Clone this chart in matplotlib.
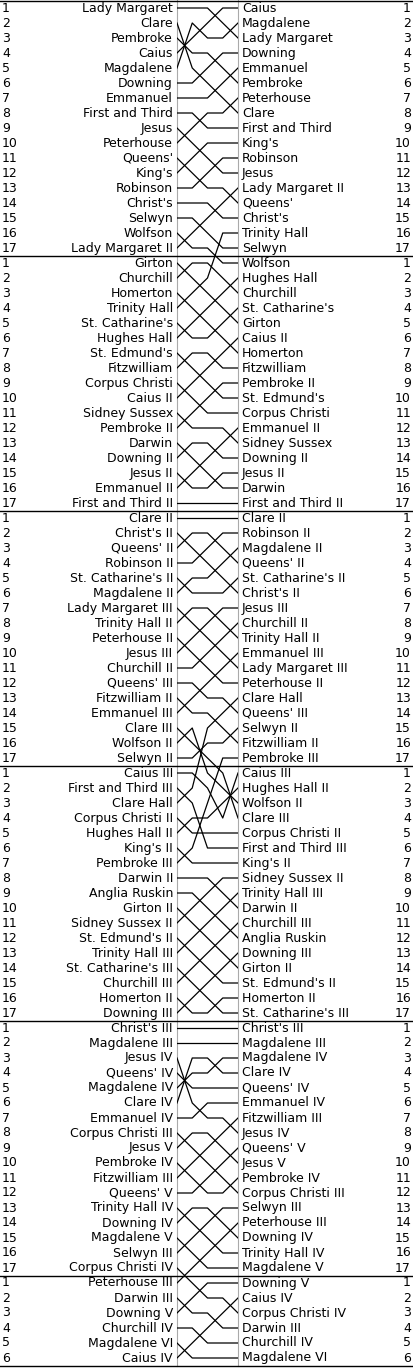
import matplotlib
matplotlib.use("Agg")
import matplotlib.pyplot as plt

# ---------------- data: crews in starting order, row after each day (0..4) ----------------
div1_crews = ["Lady Margaret", "Clare", "Pembroke", "Caius", "Magdalene", "Downing",
              "Emmanuel", "First and Third", "Jesus", "Peterhouse", "Queens'", "King's",
              "Robinson", "Christ's", "Selwyn", "Wolfson", "Lady Margaret II"]
div1_rows = [[0, 0, 0, 1, 2], [1, 4, 5, 6, 7], [2, 3, 3, 4, 5], [3, 2, 1, 0, 0],
             [4, 1, 2, 2, 1], [5, 5, 4, 3, 3], [6, 6, 6, 5, 4], [7, 7, 8, 8, 8],
             [8, 9, 10, 11, 11], [9, 8, 7, 7, 6], [10, 11, 12, 12, 13], [11, 10, 9, 9, 9],
             [12, 12, 11, 10, 10], [13, 13, 13, 14, 14], [14, 14, 15, 16, 16],
             [15, 16, 16, 17, 17], [16, 15, 14, 13, 12]]

div2_crews = ["Girton", "Churchill", "Homerton", "Trinity Hall", "St. Catharine's",
              "Hughes Hall", "St. Edmund's", "Fitzwilliam", "Corpus Christi", "Caius II",
              "Sidney Sussex", "Pembroke II", "Darwin", "Downing II", "Jesus II",
              "Emmanuel II", "First and Third II"]
div2_rows = [[17, 18, 19, 20, 21], [18, 17, 17, 18, 19], [19, 20, 21, 22, 23],
             [20, 19, 18, 15, 15], [21, 22, 22, 21, 20], [22, 21, 20, 19, 18],
             [23, 24, 25, 26, 26], [24, 23, 23, 24, 24], [25, 26, 27, 27, 27],
             [26, 25, 24, 23, 22], [27, 28, 28, 28, 29], [28, 27, 26, 25, 25],
             [29, 30, 31, 32, 32], [30, 29, 29, 30, 30], [31, 32, 32, 31, 31],
             [32, 31, 30, 29, 28], [33, 33, 33, 33, 33]]

div3_crews = ["Clare II", "Christ's II", "Queens' II", "Robinson II", "St. Catharine's II",
              "Magdalene II", "Lady Margaret III", "Trinity Hall II", "Peterhouse II",
              "Jesus III", "Churchill II", "Queens' III", "Fitzwilliam II", "Emmanuel III",
              "Clare III", "Wolfson II", "Selwyn II"]
div3_rows = [[34, 34, 34, 34, 34], [35, 36, 37, 38, 39], [36, 35, 35, 36, 37],
             [37, 37, 36, 35, 35], [38, 39, 39, 39, 38], [39, 38, 38, 37, 36],
             [40, 41, 42, 43, 44], [41, 40, 40, 41, 42], [42, 43, 44, 45, 45],
             [43, 42, 41, 40, 40], [44, 44, 43, 42, 41], [45, 45, 46, 46, 47],
             [46, 47, 47, 48, 49], [47, 46, 45, 44, 43], [48, 49, 50, 51, 54],
             [49, 48, 51, 52, 53], [50, 50, 49, 49, 48]]

div4_crews = ["Caius III", "First and Third III", "Clare Hall", "Corpus Christi II",
              "Hughes Hall II", "King's II", "Pembroke III", "Darwin II", "Anglia Ruskin",
              "Girton II", "Sidney Sussex II", "St. Edmund's II", "Trinity Hall III",
              "St. Catharine's III", "Churchill III", "Homerton II", "Downing III"]
div4_rows = [[51, 51, 52, 54, 51], [52, 53, 56, 56, 56], [53, 52, 48, 47, 46],
             [54, 55, 55, 55, 55], [55, 54, 54, 53, 52], [56, 57, 57, 57, 57],
             [57, 56, 53, 50, 50], [58, 58, 58, 59, 60], [59, 59, 60, 61, 62],
             [60, 61, 62, 63, 64], [61, 60, 59, 58, 58], [62, 63, 64, 65, 65],
             [63, 62, 61, 60, 59], [64, 65, 66, 67, 67], [65, 64, 63, 62, 61],
             [66, 67, 67, 66, 66], [67, 66, 65, 64, 63]]

div5_crews = ["Christ's III", "Magdalene III", "Jesus IV", "Queens' IV", "Magdalene IV",
              "Clare IV", "Emmanuel IV", "Corpus Christi III", "Jesus V", "Pembroke IV",
              "Fitzwilliam III", "Queens' V", "Trinity Hall IV", "Downing IV", "Magdalene V",
              "Selwyn III", "Corpus Christi IV"]
div5_rows = [[68, 68, 68, 68, 68], [69, 69, 69, 69, 69], [70, 73, 74, 74, 75],
             [71, 72, 72, 72, 72], [72, 71, 71, 70, 70], [73, 70, 70, 71, 71],
             [74, 74, 73, 73, 73], [75, 76, 77, 78, 79], [76, 75, 75, 76, 77],
             [77, 78, 79, 79, 78], [78, 77, 76, 75, 74], [79, 79, 78, 77, 76],
             [80, 81, 82, 83, 83], [81, 80, 80, 81, 82], [82, 83, 84, 84, 84],
             [83, 82, 81, 80, 80], [84, 85, 86, 86, 87]]

div6_crews = ["Peterhouse III", "Darwin III", "Downing V", "Churchill IV",
              "Magdalene VI", "Caius IV"]
div6_rows = [[85, 84, 83, 82, 81], [86, 87, 87, 88, 88], [87, 86, 85, 85, 85],
             [88, 88, 89, 89, 89], [89, 90, 90, 90, 90], [90, 89, 88, 87, 86]]

div_sizes = [17, 17, 17, 17, 17, 6]
days = [0, 1, 2, 3, 4]

# ---------------- layout ----------------
W, H = 414, 1370
ROW = 15.0
TOP = 0.5
n_rows = sum(div_sizes)
XL, XR = 177, 238

fig = plt.figure(figsize=(W / 100, H / 100), dpi=100)
bg = fig.add_axes([0, 0, 1, 1])
bg.set_xlim(0, W)
bg.set_ylim(H, 0)
bg.axis("off")

ax = fig.add_axes([XL / W, 1 - (TOP + n_rows * ROW) / H, (XR - XL) / W, n_rows * ROW / H])
ax.set_xlim(days[0], days[-1])
ax.set_ylim(n_rows - 0.5, -0.5)
ax.axis("off")


def ypix(r):
    return TOP + ROW * (r + 0.5)


bottom = TOP + n_rows * ROW
bg.plot([XL, XL], [0, bottom], color="#aaaaaa", lw=0.8)
bg.plot([XR, XR], [0, bottom], color="#aaaaaa", lw=0.8)
bg.plot([0, W], [TOP, TOP], color="black", lw=1.0)
bg.plot([0, W], [bottom, bottom], color="black", lw=1.0)
acc = 0
for s in div_sizes[:-1]:
    acc += s
    bg.plot([0, W], [ypix(acc - 0.5), ypix(acc - 0.5)], color="black", lw=1.0)

fs = 9
all_divs = [(div1_crews, div1_rows), (div2_crews, div2_rows), (div3_crews, div3_rows),
            (div4_crews, div4_rows), (div5_crews, div5_rows), (div6_crews, div6_rows)]

final = {}
for crews, rows in all_divs:
    for name, path in zip(crews, rows):
        ax.plot(days, path, color="black", lw=0.9)
        bg.text(XL - 4, ypix(path[0]), name, ha="right", va="center", fontsize=fs)
        final[path[-1]] = name

for r, name in final.items():
    bg.text(XR + 4, ypix(r), name, ha="left", va="center", fontsize=fs)

acc = 0
for s in div_sizes:
    for k in range(s):
        bg.text(2, ypix(acc + k), str(k + 1), ha="left", va="center", fontsize=fs)
        bg.text(W - 3, ypix(acc + k), str(k + 1), ha="right", va="center", fontsize=fs)
    acc += s

fig.savefig("out.png", dpi=100)
